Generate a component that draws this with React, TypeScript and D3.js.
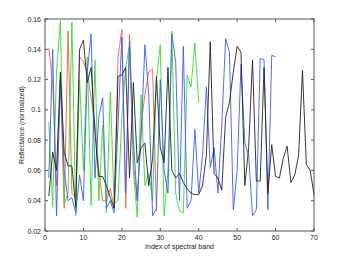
import React, { useEffect, useRef } from "react";
import * as d3 from "d3";

// values, index starts at 1
const black = [
  0.043, 0.072, 0.06, 0.125, 0.072, 0.063, 0.063, 0.036, 0.14, 0.146,
  0.118, 0.128, 0.085, 0.056, 0.056, 0.05, 0.042, 0.035, 0.122, 0.123,
  0.128, 0.055, 0.118, 0.065, 0.075, 0.078, 0.05, 0.068, 0.122, 0.075,
  0.065, 0.128, 0.06, 0.055, 0.058, 0.052, 0.048, 0.045, 0.044, 0.044,
  0.05, 0.07, 0.145, 0.058, 0.055, 0.047, 0.095, 0.105, 0.125, 0.142,
  0.138, 0.05, 0.075, 0.133, 0.053, 0.053, 0.128, 0.045, 0.077, 0.056,
  0.055, 0.068, 0.076, 0.052, 0.057, 0.07, 0.126, 0.064, 0.06, 0.044,
];
const blue = [
  0.055, 0.14, 0.03, 0.12, 0.06, 0.04, 0.042, 0.032, 0.057, 0.04,
  0.125, 0.15, 0.055, 0.095, 0.108, 0.035, 0.04, 0.032, 0.09, 0.148,
  0.045, 0.145, 0.08, 0.04, 0.082, 0.143, 0.11, 0.03, 0.035, 0.12,
  0.06, 0.045, 0.15, 0.132, 0.04, 0.142, 0.035, 0.04, 0.087, 0.045,
  0.07, 0.115, 0.062, 0.075, 0.045, 0.09, 0.147, 0.138, 0.034, 0.06,
  0.13, 0.078, 0.07, 0.03, 0.034, 0.134, 0.133, 0.034, 0.136, 0.135,
];
const green = [
  0.092, 0.036, 0.125, 0.159, 0.038, 0.045, 0.158, 0.03, 0.12, 0.06,
  0.135, 0.037, 0.133, 0.04, 0.09, 0.032, 0.112, 0.038, 0.04, 0.095,
  0.128, 0.143, 0.06, 0.029, 0.11, 0.05, 0.058, 0.04, 0.12, 0.143,
  0.03, 0.06, 0.152, 0.045, 0.033, 0.032, 0.123, 0.115, 0.144, 0.105,
];
const red = [
  0.141, 0.118, 0.05, 0.12, 0.035, 0.152, 0.045, 0.042, 0.135, 0.132,
  0.125, 0.108, 0.09, 0.06, 0.04, 0.04, 0.048, 0.035, 0.135, 0.153,
  0.035, 0.15, 0.065, 0.04, 0.09, 0.11, 0.125, 0.127, 0.033,
];
const xTicks = [0, 10, 20, 30, 40, 50, 60, 70];
const yTicks = [0.02, 0.04, 0.06, 0.08, 0.1, 0.12, 0.14, 0.16];

const series = [
  { values: red, color: "#ff5a3c" },
  { values: green, color: "#33dd33" },
  { values: blue, color: "#3a5cff" },
  { values: black, color: "#222222" },
];

const App: React.FC = () => {
  const svgRef = useRef<SVGSVGElement | null>(null);

  useEffect(() => {
    if (!svgRef.current) return;
    const width = 346;
    const height = 260;
    const margin = { top: 19, right: 32, bottom: 29, left: 45 };
    const innerWidth = width - margin.left - margin.right;
    const innerHeight = height - margin.top - margin.bottom;

    const root = d3.select(svgRef.current);
    root.selectAll("*").remove();

    const x = d3.scaleLinear().domain([0, 70]).range([0, innerWidth]);
    const y = d3.scaleLinear().domain([0.02, 0.16]).range([innerHeight, 0]);

    const g = root
      .append("g")
      .attr("transform", `translate(${margin.left},${margin.top})`);

    const line = d3
      .line<number>()
      .x((_, i) => x(i + 1))
      .y(d => y(d));

    series.forEach(s => {
      g.append("path")
        .datum(s.values)
        .attr("fill", "none")
        .attr("stroke", s.color)
        .attr("stroke-width", 0.9)
        .attr("d", line);
    });

    // box
    g.append("rect")
      .attr("width", innerWidth)
      .attr("height", innerHeight)
      .attr("fill", "none")
      .attr("stroke", "#555")
      .attr("stroke-width", 1);

    const font = "Liberation Sans, Arial, sans-serif";
    const tk = 3;

    // x ticks bottom and top, inward
    const xAxis = (sel: any, ypos: number, dir: number) =>
      sel
        .selectAll(null)
        .data(xTicks)
        .enter()
        .append("line")
        .attr("x1", (d: number) => x(d))
        .attr("x2", (d: number) => x(d))
        .attr("y1", ypos)
        .attr("y2", ypos + dir * tk)
        .attr("stroke", "#555");
    xAxis(g, innerHeight, -1);
    xAxis(g, 0, 1);

    const yAxis = (sel: any, xpos: number, dir: number) =>
      sel
        .selectAll(null)
        .data(yTicks)
        .enter()
        .append("line")
        .attr("y1", (d: number) => y(d))
        .attr("y2", (d: number) => y(d))
        .attr("x1", xpos)
        .attr("x2", xpos + dir * tk)
        .attr("stroke", "#555");
    yAxis(g, 0, 1);
    yAxis(g, innerWidth, -1);

    g.selectAll(null)
      .data(xTicks)
      .enter()
      .append("text")
      .attr("x", d => x(d))
      .attr("y", innerHeight + 9)
      .attr("text-anchor", "middle")
      .attr("font-family", font)
      .attr("font-size", 7)
      .attr("fill", "#222")
      .text(d => String(d));

    g.selectAll(null)
      .data(yTicks)
      .enter()
      .append("text")
      .attr("x", -4)
      .attr("y", d => y(d) + 2.5)
      .attr("text-anchor", "end")
      .attr("font-family", font)
      .attr("font-size", 7)
      .attr("fill", "#222")
      .text(d => String(+d.toFixed(2)));

    g.append("text")
      .attr("x", innerWidth / 2)
      .attr("y", innerHeight + 18)
      .attr("text-anchor", "middle")
      .attr("font-family", font)
      .attr("font-size", 7)
      .attr("fill", "#222")
      .text("Index of spectral band");

    g.append("text")
      .attr("transform", `translate(-21,${innerHeight / 2}) rotate(-90)`)
      .attr("text-anchor", "middle")
      .attr("font-family", font)
      .attr("font-size", 7)
      .attr("fill", "#222")
      .text("Reflectance (normalized)");
  }, []);

  return (
    <div style={{ position: "fixed", left: 0, top: 0 }}>
      <svg ref={svgRef} width={346} height={260} style={{ display: "block", background: "#fff" }}></svg>
    </div>
  );
};

export default App;
